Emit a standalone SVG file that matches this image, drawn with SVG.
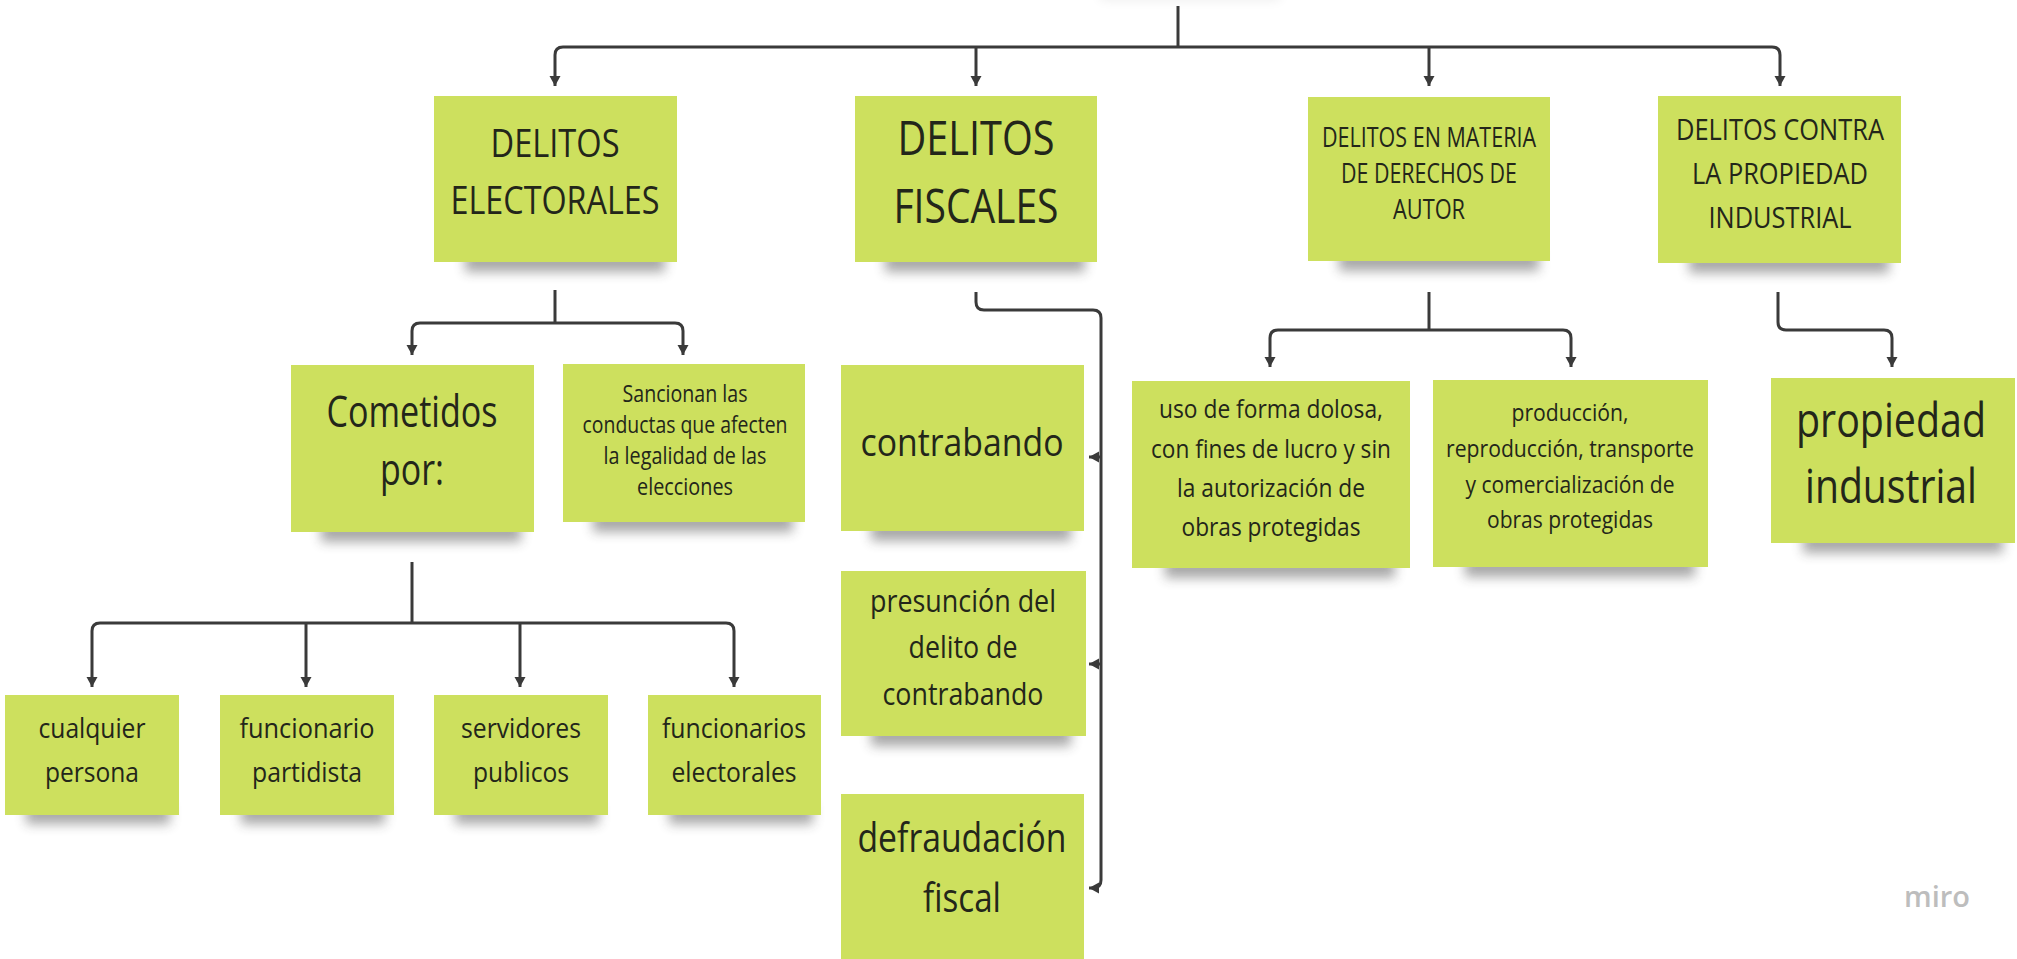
<svg xmlns="http://www.w3.org/2000/svg" width="2017" height="959" viewBox="0 0 2017 959">
<defs>
<style>
.box{fill:#cde05e;}
.sh{fill:#333333;opacity:0.42;filter:url(#blur);}
.t{font-family:"Open Sans","Liberation Sans",sans-serif;fill:#23261a;text-anchor:middle;}
.c{fill:none;stroke:#3a3a3a;stroke-width:3;}
.a{marker-end:url(#arr);}
</style>
<filter id="blur" x="-20%" y="-100%" width="140%" height="300%"><feGaussianBlur stdDeviation="6"/></filter>
<marker id="arr" markerUnits="userSpaceOnUse" markerWidth="12" markerHeight="12" refX="10" refY="6" orient="auto"><path d="M0,0.5 L10,6 L0,11.5 z" fill="#3a3a3a"/></marker>
</defs>
<rect width="2017" height="959" fill="#ffffff"/>
<rect x="1100" y="-22" width="180" height="22" fill="#000" opacity="0.07" filter="url(#blur)"/>

<g id="connectors">
<path class="c" d="M1178,6 V47"/>
<path class="c a" d="M1178,47 H563 Q555,47 555,55 V86"/>
<path class="c a" d="M976,47 V86"/>
<path class="c a" d="M1178,47 H1772 Q1780,47 1780,55 V86"/>
<path class="c a" d="M1429,47 V86"/>
<path class="c" d="M555,290 V323"/>
<path class="c a" d="M555,323 H420 Q412,323 412,331 V355"/>
<path class="c a" d="M555,323 H675 Q683,323 683,331 V355"/>
<path class="c" d="M412,562 V623"/>
<path class="c a" d="M412,623 H100 Q92,623 92,631 V687"/>
<path class="c a" d="M306,623 V687"/>
<path class="c a" d="M520,623 V687"/>
<path class="c a" d="M412,623 H726 Q734,623 734,631 V687"/>
<path class="c a" d="M976,292 V302 Q976,310 984,310 H1093 Q1101,310 1101,318 V880 Q1101,888 1093,888 H1089"/>
<path class="c a" d="M1101,457 H1089"/>
<path class="c a" d="M1101,664 H1089"/>
<path class="c" d="M1429,292 V330"/>
<path class="c a" d="M1429,330 H1278 Q1270,330 1270,338 V367"/>
<path class="c a" d="M1429,330 H1563 Q1571,330 1571,338 V367"/>
<path class="c a" d="M1778,292 V322 Q1778,330 1786,330 H1884 Q1892,330 1892,338 V367"/>
</g>

<g id="n-electorales">
<rect class="sh" x="465" y="250" width="200" height="22"/>
<rect class="box" x="434" y="96" width="243" height="166"/>
<text class="t" font-size="38"><tspan x="555" y="157" textLength="129" lengthAdjust="spacingAndGlyphs">DELITOS</tspan><tspan x="555" y="214" textLength="209" lengthAdjust="spacingAndGlyphs">ELECTORALES</tspan></text>
</g>
<g id="n-fiscales">
<rect class="sh" x="885" y="250" width="200" height="22"/>
<rect class="box" x="855" y="96" width="242" height="166"/>
<text class="t" font-size="48"><tspan x="976" y="155" textLength="157" lengthAdjust="spacingAndGlyphs">DELITOS</tspan><tspan x="976" y="223" textLength="165" lengthAdjust="spacingAndGlyphs">FISCALES</tspan></text>
</g>
<g id="n-autor">
<rect class="sh" x="1339" y="249" width="200" height="22"/>
<rect class="box" x="1308" y="97" width="242" height="164"/>
<text class="t" font-size="27"><tspan x="1429" y="147" textLength="214" lengthAdjust="spacingAndGlyphs">DELITOS EN MATERIA</tspan><tspan x="1429" y="183" textLength="176" lengthAdjust="spacingAndGlyphs">DE DERECHOS DE</tspan><tspan x="1429" y="219" textLength="72" lengthAdjust="spacingAndGlyphs">AUTOR</tspan></text>
</g>
<g id="n-propiedad-ind">
<rect class="sh" x="1689" y="251" width="200" height="22"/>
<rect class="box" x="1658" y="96" width="243" height="167"/>
<text class="t" font-size="30"><tspan x="1780" y="140" textLength="208" lengthAdjust="spacingAndGlyphs">DELITOS CONTRA</tspan><tspan x="1780" y="184" textLength="176" lengthAdjust="spacingAndGlyphs">LA PROPIEDAD</tspan><tspan x="1780" y="228" textLength="143" lengthAdjust="spacingAndGlyphs">INDUSTRIAL</tspan></text>
</g>

<g id="n-cometidos">
<rect class="sh" x="321" y="520" width="200" height="22"/>
<rect class="box" x="291" y="365" width="243" height="167"/>
<text class="t" font-size="44"><tspan x="412" y="427" textLength="171" lengthAdjust="spacingAndGlyphs">Cometidos</tspan><tspan x="412" y="485" textLength="64" lengthAdjust="spacingAndGlyphs">por:</tspan></text>
</g>
<g id="n-sancionan">
<rect class="sh" x="593" y="510" width="200" height="22"/>
<rect class="box" x="563" y="364" width="242" height="158"/>
<text class="t" font-size="23"><tspan x="685" y="402" textLength="125" lengthAdjust="spacingAndGlyphs">Sancionan las</tspan><tspan x="685" y="433" textLength="205" lengthAdjust="spacingAndGlyphs">conductas que afecten</tspan><tspan x="685" y="464" textLength="163" lengthAdjust="spacingAndGlyphs">la legalidad de las</tspan><tspan x="685" y="495" textLength="96" lengthAdjust="spacingAndGlyphs">elecciones</tspan></text>
</g>

<g id="n-cualquier">
<rect class="sh" x="26" y="804" width="144" height="20"/>
<rect class="box" x="5" y="695" width="174" height="120"/>
<text class="t" font-size="28"><tspan x="92" y="738" textLength="107" lengthAdjust="spacingAndGlyphs">cualquier</tspan><tspan x="92" y="782" textLength="94" lengthAdjust="spacingAndGlyphs">persona</tspan></text>
</g>
<g id="n-funcionario">
<rect class="sh" x="241" y="804" width="144" height="20"/>
<rect class="box" x="220" y="695" width="174" height="120"/>
<text class="t" font-size="28"><tspan x="307" y="738" textLength="135" lengthAdjust="spacingAndGlyphs">funcionario</tspan><tspan x="307" y="782" textLength="110" lengthAdjust="spacingAndGlyphs">partidista</tspan></text>
</g>
<g id="n-servidores">
<rect class="sh" x="455" y="804" width="144" height="20"/>
<rect class="box" x="434" y="695" width="174" height="120"/>
<text class="t" font-size="28"><tspan x="521" y="738" textLength="120" lengthAdjust="spacingAndGlyphs">servidores</tspan><tspan x="521" y="782" textLength="96" lengthAdjust="spacingAndGlyphs">publicos</tspan></text>
</g>
<g id="n-funcionarios-elect">
<rect class="sh" x="669" y="804" width="144" height="20"/>
<rect class="box" x="648" y="695" width="173" height="120"/>
<text class="t" font-size="28"><tspan x="734" y="738" textLength="144" lengthAdjust="spacingAndGlyphs">funcionarios</tspan><tspan x="734" y="782" textLength="125" lengthAdjust="spacingAndGlyphs">electorales</tspan></text>
</g>

<g id="n-contrabando">
<rect class="sh" x="871" y="519" width="200" height="22"/>
<rect class="box" x="841" y="365" width="243" height="166"/>
<text class="t" font-size="38"><tspan x="962" y="456" textLength="203" lengthAdjust="spacingAndGlyphs">contrabando</tspan></text>
</g>
<g id="n-presuncion">
<rect class="sh" x="871" y="724" width="200" height="22"/>
<rect class="box" x="841" y="571" width="245" height="165"/>
<text class="t" font-size="31"><tspan x="963" y="612" textLength="186" lengthAdjust="spacingAndGlyphs">presunción del</tspan><tspan x="963" y="658" textLength="109" lengthAdjust="spacingAndGlyphs">delito de</tspan><tspan x="963" y="705" textLength="161" lengthAdjust="spacingAndGlyphs">contrabando</tspan></text>
</g>
<g id="n-defraudacion">
<rect class="sh" x="871" y="950" width="200" height="22"/>
<rect class="box" x="841" y="794" width="243" height="170"/>
<text class="t" font-size="40"><tspan x="962" y="852" textLength="209" lengthAdjust="spacingAndGlyphs">defraudación</tspan><tspan x="962" y="912" textLength="78" lengthAdjust="spacingAndGlyphs">fiscal</tspan></text>
</g>

<g id="n-uso">
<rect class="sh" x="1165" y="556" width="230" height="22"/>
<rect class="box" x="1132" y="381" width="278" height="187"/>
<text class="t" font-size="26"><tspan x="1271" y="418" textLength="224" lengthAdjust="spacingAndGlyphs">uso de forma dolosa,</tspan><tspan x="1271" y="458" textLength="240" lengthAdjust="spacingAndGlyphs">con fines de lucro y sin</tspan><tspan x="1271" y="497" textLength="188" lengthAdjust="spacingAndGlyphs">la autorización de</tspan><tspan x="1271" y="536" textLength="179" lengthAdjust="spacingAndGlyphs">obras protegidas</tspan></text>
</g>
<g id="n-produccion">
<rect class="sh" x="1465" y="555" width="230" height="22"/>
<rect class="box" x="1433" y="380" width="275" height="187"/>
<text class="t" font-size="24"><tspan x="1570" y="421" textLength="117" lengthAdjust="spacingAndGlyphs">producción,</tspan><tspan x="1570" y="457" textLength="248" lengthAdjust="spacingAndGlyphs">reproducción, transporte</tspan><tspan x="1570" y="493" textLength="209" lengthAdjust="spacingAndGlyphs">y comercialización de</tspan><tspan x="1570" y="528" textLength="166" lengthAdjust="spacingAndGlyphs">obras protegidas</tspan></text>
</g>
<g id="n-propiedad">
<rect class="sh" x="1803" y="531" width="200" height="22"/>
<rect class="box" x="1771" y="378" width="244" height="165"/>
<text class="t" font-size="47"><tspan x="1891" y="437" textLength="190" lengthAdjust="spacingAndGlyphs">propiedad</tspan><tspan x="1891" y="503" textLength="172" lengthAdjust="spacingAndGlyphs">industrial</tspan></text>
</g>

<text x="1937" y="907" font-family="'Open Sans','Liberation Sans',sans-serif" font-size="29" fill="#bdbdbd" text-anchor="middle" font-weight="600">miro</text>
</svg>
